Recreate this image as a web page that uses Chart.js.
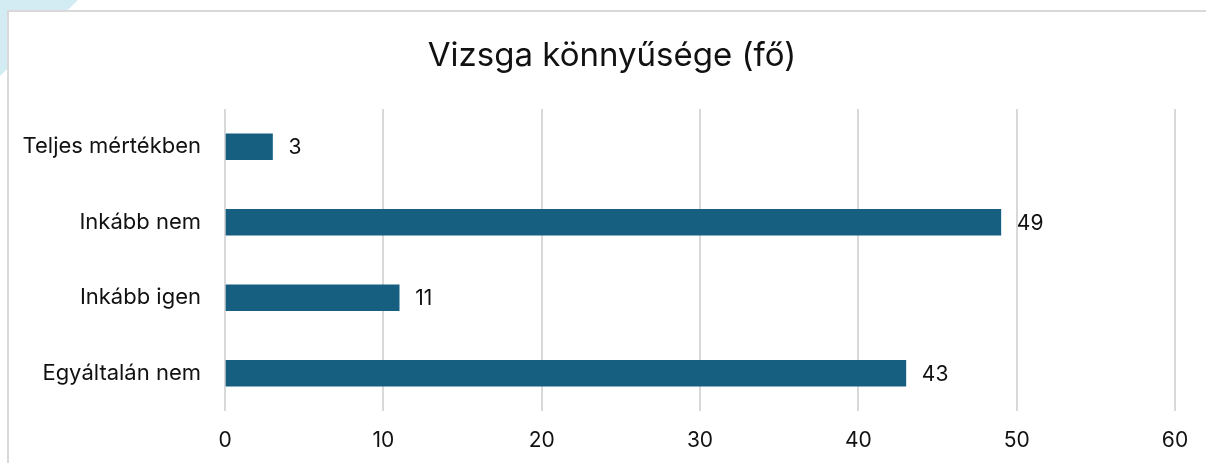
<!DOCTYPE html>
<html>
<head>
<meta charset="utf-8">
<script src="https://cdn.jsdelivr.net/npm/chart.js@4.4.1/dist/chart.umd.min.js"></script>
<style>
  html, body { margin: 0; padding: 0; background: #ffffff; overflow: hidden; }
  #wrap { position: relative; width: 1206px; height: 463px; }
  #tri { position: absolute; left: 0; top: 0; width: 0; height: 0;
         border-top: 76px solid #d3ebf2; border-right: 78px solid transparent; }
  #box { position: absolute; left: 7px; top: 10px; width: 1212px; height: 470px;
         background: #ffffff; border: 2px solid #d9d9d9; box-sizing: border-box; }
  #c { position: absolute; left: 0; top: 0; }
</style>
</head>
<body>
<div id="wrap">
  <div id="tri"></div>
  <div id="box"></div>
  <canvas id="c" width="1206" height="463"></canvas>
</div>
<script>
const chartTitle = "Vizsga könnyűsége (fő)";
const categories = ["Teljes mértékben", "Inkább nem", "Inkább igen", "Egyáltalán nem"];
const values = [3, 49, 11, 43];
const xTicks = [0, 10, 20, 30, 40, 50, 60];

const FONT = "Inter, 'Noto Sans', 'Liberation Sans', sans-serif";
const TEXT = "#111111";

const titleAndLabels = {
  id: 'titleAndLabels',
  afterDraw(chart) {
    const ctx = chart.ctx;
    ctx.save();
    // title, centred on the chart frame
    ctx.font = "33px " + FONT;
    ctx.fillStyle = TEXT;
    ctx.textAlign = "center";
    ctx.textBaseline = "middle";
    ctx.fillText(chartTitle, 612, 56);
    // value labels at bar ends
    const meta = chart.getDatasetMeta(0);
    ctx.font = "21px " + FONT;
    ctx.textAlign = "left";
    meta.data.forEach((bar, i) => {
      ctx.fillText(String(values[i]), bar.x + 16, bar.y + 1);
    });
    ctx.restore();
  }
};

new Chart(document.getElementById('c'), {
  type: 'bar',
  data: {
    labels: categories,
    datasets: [{
      data: values,
      backgroundColor: '#175f80',
      borderWidth: 0,
      barThickness: 26
    }]
  },
  options: {
    indexAxis: 'y',
    responsive: false,
    animation: false,
    devicePixelRatio: 1,
    layout: { padding: { left: 0, right: 31, top: 109, bottom: 0 } },
    plugins: {
      legend: { display: false },
      tooltip: { enabled: false },
      title: { display: false }
    },
    scales: {
      x: {
        type: 'linear',
        min: xTicks[0],
        max: xTicks[xTicks.length - 1],
        afterBuildTicks(scale) { scale.ticks = xTicks.map(v => ({ value: v })); },
        afterFit(scale) { scale.height = 52; },
        grid: { color: '#d9d9d9', lineWidth: 2, drawTicks: false },
        border: { display: false },
        ticks: {
          color: TEXT,
          padding: 17,
          font: { family: FONT, size: 21 }
        }
      },
      y: {
        afterFit(scale) { scale.width = 225; },
        grid: { display: false, drawTicks: false },
        border: { display: false },
        ticks: {
          color: TEXT,
          padding: 24,
          font: { family: FONT, size: 22 }
        }
      }
    }
  },
  plugins: [titleAndLabels]
});
</script>
</body>
</html>
